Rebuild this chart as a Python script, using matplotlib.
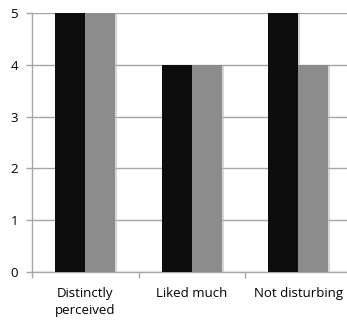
import matplotlib
matplotlib.use("Agg")
import matplotlib.pyplot as plt
import numpy as np
import matplotlib.patheffects as pe

categories = ["Distinctly\nperceived", "Liked much", "Not disturbing"]
series_a = [5, 4, 5]
series_b = [5, 4, 4]
yticks = [0, 1, 2, 3, 4, 5]

plt.rcParams['font.family'] = ['Open Sans', 'DejaVu Sans']

fig = plt.figure(figsize=(3.47, 3.21), dpi=100)
W, H = 347, 321
left, right, bottom, top = 32, 351.5, 272, 13
ax = fig.add_axes([left / W, 1 - bottom / H, (right - left) / W, (bottom - top) / H])

x = np.arange(len(categories))
bw = 0.28
shadow = [pe.SimplePatchShadow(offset=(1.5, -1), shadow_rgbFace='#bbbbbb', alpha=0.6), pe.Normal()]
ax.bar(x - bw / 2, series_a, bw, color='#0d0d0d', zorder=3, path_effects=shadow)
ax.bar(x + bw / 2, series_b, bw, color='#8c8c8c', zorder=3, path_effects=shadow)

ax.set_xlim(-0.5, len(categories) - 0.5)
ax.set_ylim(0, 5)
ax.set_yticks(yticks)
ax.yaxis.grid(True, color='#a6a6a6', linewidth=1, zorder=0)
ax.set_axisbelow(True)

for s in ['top', 'right']:
    ax.spines[s].set_visible(False)
for s in ['left', 'bottom']:
    ax.spines[s].set_color('#a6a6a6')
    ax.spines[s].set_linewidth(1)

ax.set_xticks(np.arange(len(categories) + 1) - 0.5, minor=False)
ax.set_xticklabels([])
ax.set_xticks(x, minor=True)
ax.set_xticklabels(categories, minor=True, fontsize=9.5, linespacing=1.35)
ax.tick_params(axis='x', which='major', length=4, color='#a6a6a6', width=1)
ax.tick_params(axis='x', which='minor', length=0, pad=11)
ax.tick_params(axis='y', length=4, color='#a6a6a6', width=1, labelsize=9.5, pad=6)

fig.savefig("out.png", dpi=100)
